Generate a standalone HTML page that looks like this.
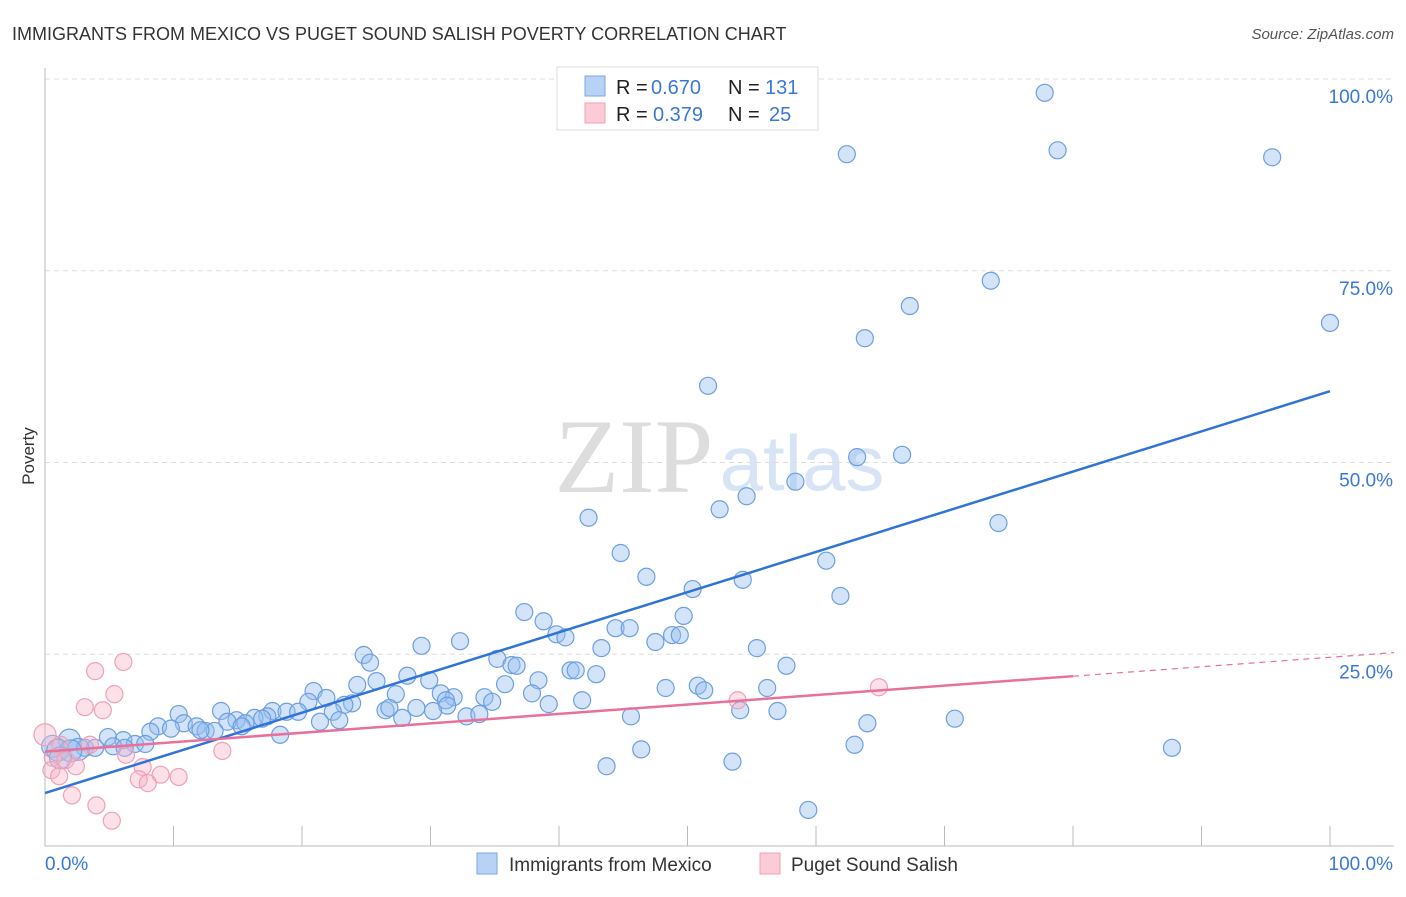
<!DOCTYPE html>
<html><head><meta charset="utf-8"><style>
body{margin:0;background:#fff;font-family:"Liberation Sans",sans-serif}
</style></head><body>
<svg width="1406" height="892" xmlns="http://www.w3.org/2000/svg" id="c" style="font-family:'Liberation Sans',sans-serif">
<text x="12" y="40" font-size="18" fill="#333">IMMIGRANTS FROM MEXICO VS PUGET SOUND SALISH POVERTY CORRELATION CHART</text>
<text x="1394" y="39" font-size="15" fill="#555" text-anchor="end" font-style="italic">Source: ZipAtlas.com</text>
<text x="634" y="492" font-size="106" fill="#ddd" text-anchor="middle" font-family="Liberation Serif,serif">ZIP</text>
<text x="802" y="490" font-size="78" fill="#d6e4f5" text-anchor="middle">atlas</text>
<text x="34" y="456" font-size="17" fill="#333" text-anchor="middle" transform="rotate(-90 34 456)">Poverty</text>
<g id="grid"></g><g id="pts"></g><g id="lines"></g>
<rect x="557" y="67" width="261" height="63" fill="#fff" stroke="#ddd"/>
<rect x="585" y="76" width="20" height="20" fill="#b8d2f5" stroke="#7ba7e6"/>
<rect x="585" y="103" width="20" height="20" fill="#fccbd8" stroke="#f0a0b8"/>
<text y="94" font-size="20" fill="#222"><tspan x="616">R =</tspan><tspan x="651" fill="#3a78d8">0.670</tspan><tspan x="728">N =</tspan><tspan x="765" fill="#3a78d8">131</tspan></text>
<text y="121" font-size="20" fill="#222"><tspan x="616">R =</tspan><tspan x="653" fill="#3a78d8">0.379</tspan><tspan x="728">N =</tspan><tspan x="769" fill="#3a78d8">25</tspan></text>
<rect x="477" y="853" width="20" height="21" fill="#b8d2f5" stroke="#7ba7e6"/>
<text x="509" y="871" font-size="19" fill="#333">Immigrants from Mexico</text>
<rect x="760" y="853" width="20" height="21" fill="#fccbd8" stroke="#f0a0b8"/>
<text x="791" y="871" font-size="19" fill="#333">Puget Sound Salish</text>
</svg>
<script>
const blueX=[77.8,62.4,78.8,95.5,73.6,67.3,100,63.8,51.6,63.2,66.7,58.4,54.6,52.5,42.3,74.2,44.8,60.8,46.8,54.3,50.4,61.9,37.3,49.7,38.8,44.4,45.5,39.8,40.5,48.8,49.4,47.5,32.3,29.3,43.3,55.4,24.8,25.3,35.2,36.3,36.7,57.7,40.9,41.3,42.9,28.2,29.9,25.8,38.4,24.3,35.8,48.3,50.8,51.3,56.2,20.9,27.3,30.8,21.9,31.8,34.2,37.9,41.8,20.5,23.9,31.2,34.8,23.3,39.2,28.9,31.3,26.5,26.8,30.2,54.1,57.0,13.7,17.7,18.8,19.7,10.4,22.4,17.3,27.8,32.8,33.8,45.6,16.3,14.9,16.9,14.2,21.4,22.9,64.0,70.8,8.8,10.8,11.8,15.6,15.3,9.8,12.5,13.2,12.1,8.2,18.3,4.9,6.1,1.9,7.0,7.8,5.3,0.6,3.1,3.9,6.2,2.6,1.0,2.0,63.0,87.7,46.4,1.2,53.5,43.7,59.4];
const blueY=[98.2,90.2,90.7,89.8,73.7,70.4,68.2,66.2,60.0,50.7,51.0,47.5,45.6,43.9,42.8,42.1,38.2,37.2,35.1,34.7,33.5,32.6,30.5,30.0,29.3,28.4,28.4,27.6,27.2,27.5,27.5,26.6,26.7,26.1,25.8,25.8,24.9,23.9,24.4,23.6,23.5,23.5,22.9,22.9,22.4,22.2,21.6,21.5,21.6,21.0,21.1,20.6,20.9,20.3,20.6,20.2,19.8,19.9,19.3,19.4,19.4,19.9,19.0,18.8,18.6,19.0,18.8,18.4,18.5,18.0,18.3,17.7,18.0,17.6,17.7,17.6,17.6,17.6,17.5,17.5,17.2,17.5,16.9,16.7,16.9,17.2,16.9,16.7,16.4,16.6,16.2,16.2,16.4,16.0,16.6,15.6,16.0,15.6,16.0,15.6,15.3,15.0,15.0,15.1,14.9,14.5,14.2,13.8,13.8,13.3,13.3,13.0,13.0,12.8,12.8,12.8,12.6,12.5,12.4,13.2,12.8,12.6,11.5,11.0,10.4,4.7];
const pinkX=[0,6.1,3.9,5.4,3.1,4.5,53.9,64.9,13.8,6.3,0.6,1.6,2.4,0.5,7.6,1.1,9.0,10.4,7.3,8.0,2.1,4.0,5.2,1.2,3.5];
const pinkY=[14.5,24.0,22.8,19.8,18.1,17.7,19.0,20.7,12.4,11.9,11.5,11.2,10.4,9.9,10.3,9.1,9.3,9.0,8.7,8.2,6.6,5.3,3.3,13.2,13.2];
const yTicks=[25,50,75,100];
const yTickLabels=["25.0%","50.0%","75.0%","100.0%"];
const xTicks=[0,10,20,30,40,50,60,70,80,90,100];
const blueTrend=[6.9,59.3];
const pinkTrend=[12.3,24.6];
const X=v=>45+v*12.85, Y=v=>846-v*7.67;
const NS="http://www.w3.org/2000/svg";
function mk(p,t,a){const e=document.createElementNS(NS,t);for(const k in a)e.setAttribute(k,a[k]);p.appendChild(e);return e;}
const g=document.getElementById('grid'),P=document.getElementById('pts'),L=document.getElementById('lines');
yTicks.forEach((t,i)=>{
 const ln=mk(g,'line',{x1:45,x2:1394,y1:Y(t),y2:Y(t),stroke:'#ddd','stroke-dasharray':'5,4'});
 
 
 const tx=mk(g,'text',{x:1393,y:Y(t)+24,'font-size':19,fill:'#3a78d8','text-anchor':'end'});tx.textContent=yTickLabels[i];
 
 
});
const ax=mk(g,'path',{d:'M45 68V846H1394',fill:'none',stroke:'#bbb'});


xTicks.forEach(t=>{const l=mk(g,'line',{x1:X(t),x2:X(t),y1:826,y2:846,stroke:'#bbb'});
 
 });
const x0=mk(g,'text',{x:45,y:870,'font-size':19,fill:'#3a78d8'});x0.textContent='0.0%';


const x1=mk(g,'text',{x:1393,y:870,'font-size':19,fill:'#3a78d8','text-anchor':'end'});x1.textContent='100.0%';


blueX.forEach((x,i)=>{const big=(x<3&&blueY[i]<14.5);
 const c=mk(P,'circle',{cx:X(x),cy:Y(blueY[i]),r:big?11:8.5,fill:'rgba(150,190,240,0.42)',stroke:'#6d9fe0','stroke-width':1.2});
 
 });
pinkX.forEach((x,i)=>{
 const c=mk(P,'circle',{cx:X(x),cy:Y(pinkY[i]),r:i==0?11:8.5,fill:'rgba(248,180,200,0.4)',stroke:'#f0a0b8','stroke-width':1.2});
 
 });
const bl=mk(L,'line',{x1:X(0),y1:Y(blueTrend[0]),x2:X(100),y2:Y(blueTrend[1]),stroke:'#2f74d6','stroke-width':2.5});


const py=v=>pinkTrend[0]+(pinkTrend[1]-pinkTrend[0])*v/100;
const pl=mk(L,'line',{x1:X(0),y1:Y(py(0)),x2:X(80),y2:Y(py(80)),stroke:'#e8709a','stroke-width':2.5});


const pd=mk(L,'line',{x1:X(80),y1:Y(py(80)),x2:1394,y2:Y(py(105)),stroke:'#e8709a','stroke-width':1.2,'stroke-dasharray':'6,5'});


</script>
</body></html>
